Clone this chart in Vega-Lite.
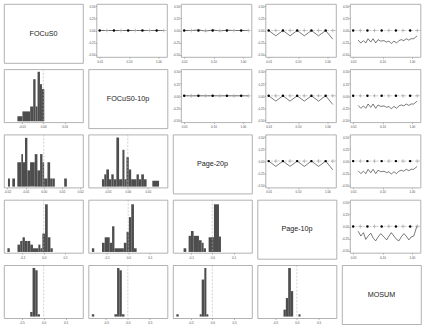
{
"$schema": "https://vega.github.io/schema/vega-lite/v6.json",
"padding": {"left": 3, "top": 3, "right": 0, "bottom": 0},
"background": "white",
"datasets": {
"zero": [{"x": 0, "y": 0}],
"lab": [{"k": 0, "t": "FOCuS0"}, {"k": 1, "t": "FOCuS0-10p"}, {"k": 2, "t": "Page-20p"}, {"k": 3, "t": "Page-10p"}, {"k": 4, "t": "MOSUM"}],
"mk": [{"x":0.01,"y":0,"k":"a"},{"x":0.0175,"y":0,"k":"b"},{"x":0.03063,"y":0,"k":"a"},{"x":0.05359,"y":0,"k":"b"},{"x":0.09379,"y":0,"k":"a"},{"x":0.1641,"y":0,"k":"b"},{"x":0.2872,"y":0,"k":"a"},{"x":0.5027,"y":0,"k":"b"},{"x":0.8796,"y":0,"k":"a"},{"x":1.539,"y":0,"k":"b"}],
"ln": [
{"s":"flat","x":0.01,"y":0},{"s":"flat","x":0.0175,"y":0},{"s":"flat","x":0.03063,"y":0},{"s":"flat","x":0.05359,"y":0},{"s":"flat","x":0.09379,"y":0},{"s":"flat","x":0.1641,"y":0},{"s":"flat","x":0.2872,"y":0},{"s":"flat","x":0.5027,"y":0},{"s":"flat","x":0.8796,"y":0},{"s":"flat","x":1.539,"y":0},
{"s":"flat2","x":0.01,"y":0},{"s":"flat2","x":0.0175,"y":0},{"s":"flat2","x":0.03063,"y":0.01},{"s":"flat2","x":0.05359,"y":-0.012},{"s":"flat2","x":0.09379,"y":0.01},{"s":"flat2","x":0.1641,"y":-0.008},{"s":"flat2","x":0.2872,"y":0.006},{"s":"flat2","x":0.5027,"y":0},{"s":"flat2","x":0.8796,"y":0},{"s":"flat2","x":1.539,"y":0},
{"s":"zig","x":0.01,"y":0},{"s":"zig","x":0.0175,"y":-0.11},{"s":"zig","x":0.03063,"y":0},{"s":"zig","x":0.05359,"y":-0.11},{"s":"zig","x":0.09379,"y":0},{"s":"zig","x":0.1641,"y":-0.11},{"s":"zig","x":0.2872,"y":0},{"s":"zig","x":0.5027,"y":-0.11},{"s":"zig","x":0.8796,"y":0},{"s":"zig","x":1.539,"y":-0.18},
{"s":"wig","x":0.01477,"y":-0.2},{"s":"wig","x":0.01819,"y":-0.26},{"s":"wig","x":0.0224,"y":-0.21},{"s":"wig","x":0.02687,"y":-0.26},{"s":"wig","x":0.03224,"y":-0.17},{"s":"wig","x":0.0397,"y":-0.24},{"s":"wig","x":0.04764,"y":-0.17},{"s":"wig","x":0.05868,"y":-0.26},{"s":"wig","x":0.07037,"y":-0.19},{"s":"wig","x":0.08666,"y":-0.22},{"s":"wig","x":0.1124,"y":-0.21},{"s":"wig","x":0.1384,"y":-0.24},{"s":"wig","x":0.1661,"y":-0.22},{"s":"wig","x":0.1993,"y":-0.27},{"s":"wig","x":0.2454,"y":-0.22},{"s":"wig","x":0.3022,"y":-0.26},{"s":"wig","x":0.3626,"y":-0.21},{"s":"wig","x":0.4351,"y":-0.19},{"s":"wig","x":0.5358,"y":-0.21},{"s":"wig","x":0.6428,"y":-0.17},{"s":"wig","x":0.7916,"y":-0.2},{"s":"wig","x":0.9495,"y":-0.17},{"s":"wig","x":1.169,"y":-0.17},{"s":"wig","x":1.517,"y":-0.11},
{"s":"wig3","x":0.01477,"y":-0.1},{"s":"wig3","x":0.01819,"y":-0.2},{"s":"wig3","x":0.0224,"y":-0.13},{"s":"wig3","x":0.02687,"y":-0.27},{"s":"wig3","x":0.03224,"y":-0.2},{"s":"wig3","x":0.0397,"y":-0.14},{"s":"wig3","x":0.04764,"y":-0.24},{"s":"wig3","x":0.05868,"y":-0.3},{"s":"wig3","x":0.07037,"y":-0.22},{"s":"wig3","x":0.08666,"y":-0.15},{"s":"wig3","x":0.1124,"y":-0.22},{"s":"wig3","x":0.1384,"y":-0.28},{"s":"wig3","x":0.1661,"y":-0.2},{"s":"wig3","x":0.1993,"y":-0.13},{"s":"wig3","x":0.2454,"y":-0.2},{"s":"wig3","x":0.3022,"y":-0.27},{"s":"wig3","x":0.3626,"y":-0.3},{"s":"wig3","x":0.4351,"y":-0.22},{"s":"wig3","x":0.5358,"y":-0.15},{"s":"wig3","x":0.6428,"y":-0.2},{"s":"wig3","x":0.7916,"y":-0.28},{"s":"wig3","x":0.9495,"y":-0.22},{"s":"wig3","x":1.169,"y":-0.2},{"s":"wig3","x":1.517,"y":0.02}
],
"hist": [
{"p":"a","x":-0.01213,"x2":-0.00976,"n":1},{"p":"a","x":-0.00976,"x2":-0.00614,"n":2},{"p":"a","x":-0.00614,"x2":-0.00472,"n":3},{"p":"a","x":-0.00472,"x2":-0.00362,"n":8.5},{"p":"a","x":-0.00362,"x2":-0.00268,"n":3},{"p":"a","x":-0.00268,"x2":-0.00157,"n":10},{"p":"a","x":-0.00157,"x2":-0.00063,"n":7.5},{"p":"a","x":-0.00063,"x2":0.00047,"n":6.5},
{"p":"b","x":-0.01963,"x2":-0.01853,"n":1},{"p":"b","x":-0.01725,"x2":-0.01578,"n":1},{"p":"b","x":-0.0145,"x2":-0.01229,"n":3},{"p":"b","x":-0.01229,"x2":-0.01138,"n":4},{"p":"b","x":-0.01138,"x2":-0.01028,"n":3},{"p":"b","x":-0.01028,"x2":-0.00899,"n":6},{"p":"b","x":-0.00899,"x2":-0.00752,"n":2},{"p":"b","x":-0.00752,"x2":-0.00495,"n":3},{"p":"b","x":-0.00495,"x2":-0.00349,"n":4},{"p":"b","x":-0.00349,"x2":-0.00202,"n":2},{"p":"b","x":-0.00202,"x2":-0.00073,"n":4},{"p":"b","x":-0.00073,"x2":0.00018,"n":3},{"p":"b","x":0.00018,"x2":0.00202,"n":1},{"p":"b","x":0.00202,"x2":0.00349,"n":3},{"p":"b","x":0.00349,"x2":0.00477,"n":1},{"p":"b","x":0.00477,"x2":0.00606,"n":1},{"p":"b","x":0.01119,"x2":0.01266,"n":1},
{"p":"c","x":-0.01283,"x2":-0.01167,"n":1.5},{"p":"c","x":-0.01167,"x2":-0.01067,"n":2.5},{"p":"c","x":-0.01067,"x2":-0.00933,"n":3.5},{"p":"c","x":-0.00933,"x2":-0.00817,"n":1.5},{"p":"c","x":-0.00817,"x2":-0.007,"n":2.5},{"p":"c","x":-0.007,"x2":-0.00567,"n":1.5},{"p":"c","x":-0.00567,"x2":-0.00433,"n":10},{"p":"c","x":-0.00433,"x2":-0.00267,"n":1.5},{"p":"c","x":-0.00267,"x2":-0.00167,"n":7.5},{"p":"c","x":-0.00167,"x2":-0.00067,"n":1.5},{"p":"c","x":-0.00067,"x2":0.0005,"n":6},{"p":"c","x":0.0005,"x2":0.00167,"n":3.5},{"p":"c","x":0.00167,"x2":0.00433,"n":1.5},{"p":"c","x":0.00433,"x2":0.0055,"n":2.5},{"p":"c","x":0.0055,"x2":0.00667,"n":1.5},{"p":"c","x":0.00667,"x2":0.008,"n":2.5},{"p":"c","x":0.008,"x2":0.00933,"n":1.5},{"p":"c","x":0.01217,"x2":0.0155,"n":1.2},
{"p":"d","x":-0.17,"x2":-0.159,"n":1},{"p":"d","x":-0.1228,"x2":-0.1102,"n":2},{"p":"d","x":-0.1102,"x2":-0.0992,"n":3},{"p":"d","x":-0.0992,"x2":-0.0882,"n":4},{"p":"d","x":-0.0882,"x2":-0.0756,"n":3},{"p":"d","x":-0.0756,"x2":-0.063,"n":3},{"p":"d","x":-0.063,"x2":-0.0504,"n":2},{"p":"d","x":-0.0504,"x2":-0.0252,"n":1},{"p":"d","x":-0.0252,"x2":-0.0157,"n":2},{"p":"d","x":-0.0157,"x2":-0.0063,"n":1},{"p":"d","x":-0.0063,"x2":0.0063,"n":5},{"p":"d","x":0.0063,"x2":0.0189,"n":13},{"p":"d","x":0.0189,"x2":0.0315,"n":4},{"p":"d","x":0.0315,"x2":0.0425,"n":1},
{"p":"e","x":-0.1674,"x2":-0.1566,"n":1},{"p":"e","x":-0.1209,"x2":-0.1085,"n":2.5},{"p":"e","x":-0.1085,"x2":-0.0853,"n":4},{"p":"e","x":-0.0853,"x2":-0.0744,"n":2.5},{"p":"e","x":-0.0744,"x2":-0.0636,"n":7},{"p":"e","x":-0.0636,"x2":-0.0202,"n":1},{"p":"e","x":-0.0202,"x2":-0.0078,"n":2.5},{"p":"e","x":-0.0078,"x2":0.0031,"n":5.5},{"p":"e","x":0.0031,"x2":0.014,"n":9.5},{"p":"e","x":0.014,"x2":0.0264,"n":13},{"p":"e","x":0.0264,"x2":0.0388,"n":1},
{"p":"f","x":-0.1344,"x2":-0.1219,"n":1},{"p":"f","x":-0.1109,"x2":-0.1,"n":4.4},{"p":"f","x":-0.1,"x2":-0.0875,"n":5.7},{"p":"f","x":-0.0875,"x2":-0.0625,"n":4.4},{"p":"f","x":-0.0625,"x2":-0.05,"n":3.2},{"p":"f","x":-0.05,"x2":-0.0406,"n":2.5},{"p":"f","x":-0.0406,"x2":-0.0297,"n":1},{"p":"f","x":-0.0172,"x2":0.0078,"n":4},{"p":"f","x":0.0078,"x2":0.0313,"n":13},{"p":"f","x":0.0313,"x2":0.0406,"n":4.2},
{"p":"g","x":-0.305,"x2":-0.252,"n":2},{"p":"g","x":-0.252,"x2":-0.191,"n":21},{"p":"g","x":-0.191,"x2":-0.137,"n":20},{"p":"g","x":-0.137,"x2":-0.084,"n":1},
{"p":"h","x":-0.817,"x2":-0.763,"n":1},{"p":"h","x":-0.305,"x2":-0.244,"n":1},{"p":"h","x":-0.244,"x2":-0.191,"n":21},{"p":"h","x":-0.191,"x2":-0.137,"n":20},{"p":"h","x":-0.137,"x2":-0.076,"n":1},
{"p":"i","x":-0.831,"x2":-0.777,"n":1},{"p":"i","x":-0.292,"x2":-0.246,"n":1},{"p":"i","x":-0.246,"x2":-0.185,"n":16},{"p":"i","x":-0.185,"x2":-0.138,"n":21},{"p":"i","x":-0.138,"x2":-0.092,"n":1},
{"p":"j","x":-0.308,"x2":-0.254,"n":3},{"p":"j","x":-0.254,"x2":-0.2,"n":8},{"p":"j","x":-0.2,"x2":-0.138,"n":21},{"p":"j","x":-0.138,"x2":-0.085,"n":11},{"p":"j","x":0.038,"x2":0.085,"n":1}
]
},
"spacing": 4.3,
"vconcat": [
{"spacing": 3.5, "hconcat": [
 {"width":79,"height":59,"data":{"name":"lab"},"transform":[{"filter":"datum.k===0"}],"mark":{"type":"text","fontSize":7.2,"fill":"#1a1a1a","font":"Liberation Sans"},"encoding":{"text":{"field":"t"},"x":{"datum":0.5,"type":"quantitative","scale":{"domain":[0,1]},"axis":null},"y":{"datum":0.5,"type":"quantitative","scale":{"domain":[0,1]},"axis":null}}},
 {"width":70.5,"height":53,"encoding":{"y":{"field":"y","type":"quantitative","title":null,"scale":{"domain":[-0.55,0.55],"nice":false,"zero":false},"axis":{"values":[-0.5,-0.25,0,0.25,0.5],"format":".2f"}}},"layer":[
  {"data":{"name":"zero"},"mark":{"type":"rule","color":"#b3b3b3","strokeDash":[2,1.5],"strokeWidth":0.6}},
  {"data":{"name":"ln"},"transform":[{"filter":"datum.s==='flat'"}],"mark":{"type":"line","color":"#222","strokeWidth":0.6},"encoding":{"x":{"field":"x","type":"quantitative","title":null,"scale":{"type":"log","domain":[0.00778,1.98],"nice":false},"axis":{"values":[0.01,0.1,1],"format":".2f"}}}},
  {"data":{"name":"mk"},"transform":[{"filter":"datum.k==='b'"}],"mark":{"type":"point","filled":false,"shape":"M-1,0H1M0,-1V1","size":14,"stroke":"#a6a6a6","strokeWidth":0.7,"opacity":1},"encoding":{"x":{"field":"x","type":"quantitative","title":null,"scale":{"type":"log","domain":[0.00778,1.98],"nice":false},"axis":{"values":[0.01,0.1,1],"format":".2f"}}}},
  {"data":{"name":"mk"},"transform":[{"filter":"datum.k==='a'"}],"mark":{"type":"circle","size":6,"color":"#000000","opacity":1},"encoding":{"x":{"field":"x","type":"quantitative","title":null,"scale":{"type":"log","domain":[0.00778,1.98],"nice":false},"axis":{"values":[0.01,0.1,1],"format":".2f"}}}}
 ]},
 {"width":70.5,"height":53,"encoding":{"y":{"field":"y","type":"quantitative","title":null,"scale":{"domain":[-0.55,0.55],"nice":false,"zero":false},"axis":{"values":[-0.5,-0.25,0,0.25,0.5],"format":".2f"}}},"layer":[
  {"data":{"name":"zero"},"mark":{"type":"rule","color":"#b3b3b3","strokeDash":[2,1.5],"strokeWidth":0.6}},
  {"data":{"name":"ln"},"transform":[{"filter":"datum.s==='flat2'"}],"mark":{"type":"line","color":"#222","strokeWidth":0.6},"encoding":{"x":{"field":"x","type":"quantitative","title":null,"scale":{"type":"log","domain":[0.00778,1.98],"nice":false},"axis":{"values":[0.01,0.1,1],"format":".2f"}}}},
  {"data":{"name":"mk"},"transform":[{"filter":"datum.k==='b'"}],"mark":{"type":"point","filled":false,"shape":"M-1,0H1M0,-1V1","size":14,"stroke":"#a6a6a6","strokeWidth":0.7,"opacity":1},"encoding":{"x":{"field":"x","type":"quantitative","title":null,"scale":{"type":"log","domain":[0.00778,1.98],"nice":false},"axis":{"values":[0.01,0.1,1],"format":".2f"}}}},
  {"data":{"name":"mk"},"transform":[{"filter":"datum.k==='a'"}],"mark":{"type":"circle","size":6,"color":"#000000","opacity":1},"encoding":{"x":{"field":"x","type":"quantitative","title":null,"scale":{"type":"log","domain":[0.00778,1.98],"nice":false},"axis":{"values":[0.01,0.1,1],"format":".2f"}}}}
 ]},
 {"width":70.5,"height":53,"encoding":{"y":{"field":"y","type":"quantitative","title":null,"scale":{"domain":[-0.55,0.55],"nice":false,"zero":false},"axis":{"values":[-0.5,-0.25,0,0.25,0.5],"format":".2f"}}},"layer":[
  {"data":{"name":"zero"},"mark":{"type":"rule","color":"#b3b3b3","strokeDash":[2,1.5],"strokeWidth":0.6}},
  {"data":{"name":"ln"},"transform":[{"filter":"datum.s==='zig'"}],"mark":{"type":"line","color":"#222","strokeWidth":0.6},"encoding":{"x":{"field":"x","type":"quantitative","title":null,"scale":{"type":"log","domain":[0.00778,1.98],"nice":false},"axis":{"values":[0.01,0.1,1],"format":".2f"}}}},
  {"data":{"name":"mk"},"transform":[{"filter":"datum.k==='b'"}],"mark":{"type":"point","filled":false,"shape":"M-1,0H1M0,-1V1","size":14,"stroke":"#a6a6a6","strokeWidth":0.7,"opacity":1},"encoding":{"x":{"field":"x","type":"quantitative","title":null,"scale":{"type":"log","domain":[0.00778,1.98],"nice":false},"axis":{"values":[0.01,0.1,1],"format":".2f"}}}},
  {"data":{"name":"mk"},"transform":[{"filter":"datum.k==='a'"}],"mark":{"type":"circle","size":6,"color":"#000000","opacity":1},"encoding":{"x":{"field":"x","type":"quantitative","title":null,"scale":{"type":"log","domain":[0.00778,1.98],"nice":false},"axis":{"values":[0.01,0.1,1],"format":".2f"}}}}
 ]},
 {"width":70.5,"height":53,"encoding":{"y":{"field":"y","type":"quantitative","title":null,"scale":{"domain":[-0.55,0.55],"nice":false,"zero":false},"axis":{"values":[-0.5,-0.25,0,0.25,0.5],"format":".2f"}}},"layer":[
  {"data":{"name":"zero"},"mark":{"type":"rule","color":"#b3b3b3","strokeDash":[2,1.5],"strokeWidth":0.6}},
  {"data":{"name":"ln"},"transform":[{"filter":"datum.s==='wig'"}],"mark":{"type":"line","color":"#222","strokeWidth":0.6},"encoding":{"x":{"field":"x","type":"quantitative","title":null,"scale":{"type":"log","domain":[0.00778,1.98],"nice":false},"axis":{"values":[0.01,0.1,1],"format":".2f"}}}},
  {"data":{"name":"mk"},"transform":[{"filter":"datum.k==='b'"}],"mark":{"type":"point","filled":false,"shape":"M-1,0H1M0,-1V1","size":14,"stroke":"#a6a6a6","strokeWidth":0.7,"opacity":1},"encoding":{"x":{"field":"x","type":"quantitative","title":null,"scale":{"type":"log","domain":[0.00778,1.98],"nice":false},"axis":{"values":[0.01,0.1,1],"format":".2f"}}}},
  {"data":{"name":"mk"},"transform":[{"filter":"datum.k==='a'"}],"mark":{"type":"circle","size":6,"color":"#000000","opacity":1},"encoding":{"x":{"field":"x","type":"quantitative","title":null,"scale":{"type":"log","domain":[0.00778,1.98],"nice":false},"axis":{"values":[0.01,0.1,1],"format":".2f"}}}}
 ]}
]},
{"spacing": 3.5, "hconcat": [
 {"width":79,"height":53,"encoding":{"x":{"field":"x","type":"quantitative","title":null,"scale":{"domain":[-0.0184,0.0186],"nice":false,"zero":false},"axis":{"values":[-0.01,0,0.01],"format":".2f"}}},"layer":[
  {"data":{"name":"hist"},"transform":[{"filter":"datum.p==='a'"}],"mark":{"type":"rect","color":"#4d4d4d"},"encoding":{"x2":{"field":"x2"},"y":{"field":"n","type":"quantitative","title":null,"scale":{"domain":[-0.2,10.5],"nice":false,"zero":false},"axis":null},"y2":{"datum":0}}},
  {"data":{"name":"zero"},"mark":{"type":"rule","color":"#b3b3b3","strokeDash":[2,1.5],"strokeWidth":0.6}}
 ]},
 {"width":79,"height":59,"data":{"name":"lab"},"transform":[{"filter":"datum.k===1"}],"mark":{"type":"text","fontSize":7.2,"fill":"#1a1a1a","font":"Liberation Sans"},"encoding":{"text":{"field":"t"},"x":{"datum":0.5,"type":"quantitative","scale":{"domain":[0,1]},"axis":null},"y":{"datum":0.5,"type":"quantitative","scale":{"domain":[0,1]},"axis":null}}},
 {"width":70.5,"height":53,"encoding":{"y":{"field":"y","type":"quantitative","title":null,"scale":{"domain":[-0.55,0.55],"nice":false,"zero":false},"axis":{"values":[-0.5,-0.25,0,0.25,0.5],"format":".2f"}}},"layer":[
  {"data":{"name":"zero"},"mark":{"type":"rule","color":"#b3b3b3","strokeDash":[2,1.5],"strokeWidth":0.6}},
  {"data":{"name":"ln"},"transform":[{"filter":"datum.s==='flat'"}],"mark":{"type":"line","color":"#222","strokeWidth":0.6},"encoding":{"x":{"field":"x","type":"quantitative","title":null,"scale":{"type":"log","domain":[0.00778,1.98],"nice":false},"axis":{"values":[0.01,0.1,1],"format":".2f"}}}},
  {"data":{"name":"mk"},"transform":[{"filter":"datum.k==='b'"}],"mark":{"type":"point","filled":false,"shape":"M-1,0H1M0,-1V1","size":14,"stroke":"#a6a6a6","strokeWidth":0.7,"opacity":1},"encoding":{"x":{"field":"x","type":"quantitative","title":null,"scale":{"type":"log","domain":[0.00778,1.98],"nice":false},"axis":{"values":[0.01,0.1,1],"format":".2f"}}}},
  {"data":{"name":"mk"},"transform":[{"filter":"datum.k==='a'"}],"mark":{"type":"circle","size":6,"color":"#000000","opacity":1},"encoding":{"x":{"field":"x","type":"quantitative","title":null,"scale":{"type":"log","domain":[0.00778,1.98],"nice":false},"axis":{"values":[0.01,0.1,1],"format":".2f"}}}}
 ]},
 {"width":70.5,"height":53,"encoding":{"y":{"field":"y","type":"quantitative","title":null,"scale":{"domain":[-0.55,0.55],"nice":false,"zero":false},"axis":{"values":[-0.5,-0.25,0,0.25,0.5],"format":".2f"}}},"layer":[
  {"data":{"name":"zero"},"mark":{"type":"rule","color":"#b3b3b3","strokeDash":[2,1.5],"strokeWidth":0.6}},
  {"data":{"name":"ln"},"transform":[{"filter":"datum.s==='zig'"}],"mark":{"type":"line","color":"#222","strokeWidth":0.6},"encoding":{"x":{"field":"x","type":"quantitative","title":null,"scale":{"type":"log","domain":[0.00778,1.98],"nice":false},"axis":{"values":[0.01,0.1,1],"format":".2f"}}}},
  {"data":{"name":"mk"},"transform":[{"filter":"datum.k==='b'"}],"mark":{"type":"point","filled":false,"shape":"M-1,0H1M0,-1V1","size":14,"stroke":"#a6a6a6","strokeWidth":0.7,"opacity":1},"encoding":{"x":{"field":"x","type":"quantitative","title":null,"scale":{"type":"log","domain":[0.00778,1.98],"nice":false},"axis":{"values":[0.01,0.1,1],"format":".2f"}}}},
  {"data":{"name":"mk"},"transform":[{"filter":"datum.k==='a'"}],"mark":{"type":"circle","size":6,"color":"#000000","opacity":1},"encoding":{"x":{"field":"x","type":"quantitative","title":null,"scale":{"type":"log","domain":[0.00778,1.98],"nice":false},"axis":{"values":[0.01,0.1,1],"format":".2f"}}}}
 ]},
 {"width":70.5,"height":53,"encoding":{"y":{"field":"y","type":"quantitative","title":null,"scale":{"domain":[-0.55,0.55],"nice":false,"zero":false},"axis":{"values":[-0.5,-0.25,0,0.25,0.5],"format":".2f"}}},"layer":[
  {"data":{"name":"zero"},"mark":{"type":"rule","color":"#b3b3b3","strokeDash":[2,1.5],"strokeWidth":0.6}},
  {"data":{"name":"ln"},"transform":[{"filter":"datum.s==='wig'"}],"mark":{"type":"line","color":"#222","strokeWidth":0.6},"encoding":{"x":{"field":"x","type":"quantitative","title":null,"scale":{"type":"log","domain":[0.00778,1.98],"nice":false},"axis":{"values":[0.01,0.1,1],"format":".2f"}}}},
  {"data":{"name":"mk"},"transform":[{"filter":"datum.k==='b'"}],"mark":{"type":"point","filled":false,"shape":"M-1,0H1M0,-1V1","size":14,"stroke":"#a6a6a6","strokeWidth":0.7,"opacity":1},"encoding":{"x":{"field":"x","type":"quantitative","title":null,"scale":{"type":"log","domain":[0.00778,1.98],"nice":false},"axis":{"values":[0.01,0.1,1],"format":".2f"}}}},
  {"data":{"name":"mk"},"transform":[{"filter":"datum.k==='a'"}],"mark":{"type":"circle","size":6,"color":"#000000","opacity":1},"encoding":{"x":{"field":"x","type":"quantitative","title":null,"scale":{"type":"log","domain":[0.00778,1.98],"nice":false},"axis":{"values":[0.01,0.1,1],"format":".2f"}}}}
 ]}
]},
{"spacing": 3.5, "hconcat": [
 {"width":79,"height":53,"encoding":{"x":{"field":"x","type":"quantitative","title":null,"scale":{"domain":[-0.0218,0.0215],"nice":false,"zero":false},"axis":{"values":[-0.02,-0.01,0,0.01,0.02],"format":".2f"}}},"layer":[
  {"data":{"name":"hist"},"transform":[{"filter":"datum.p==='b'"}],"mark":{"type":"rect","color":"#4d4d4d"},"encoding":{"x2":{"field":"x2"},"y":{"field":"n","type":"quantitative","title":null,"scale":{"domain":[-0.12,6.4],"nice":false,"zero":false},"axis":null},"y2":{"datum":0}}},
  {"data":{"name":"zero"},"mark":{"type":"rule","color":"#b3b3b3","strokeDash":[2,1.5],"strokeWidth":0.6}}
 ]},
 {"width":79,"height":53,"encoding":{"x":{"field":"x","type":"quantitative","title":null,"scale":{"domain":[-0.0195,0.0197],"nice":false,"zero":false},"axis":{"values":[-0.01,0,0.01],"format":".2f"}}},"layer":[
  {"data":{"name":"hist"},"transform":[{"filter":"datum.p==='c'"}],"mark":{"type":"rect","color":"#4d4d4d"},"encoding":{"x2":{"field":"x2"},"y":{"field":"n","type":"quantitative","title":null,"scale":{"domain":[-0.2,10.6],"nice":false,"zero":false},"axis":null},"y2":{"datum":0}}},
  {"data":{"name":"zero"},"mark":{"type":"rule","color":"#b3b3b3","strokeDash":[2,1.5],"strokeWidth":0.6}}
 ]},
 {"width":79,"height":59,"data":{"name":"lab"},"transform":[{"filter":"datum.k===2"}],"mark":{"type":"text","fontSize":7.2,"fill":"#1a1a1a","font":"Liberation Sans"},"encoding":{"text":{"field":"t"},"x":{"datum":0.5,"type":"quantitative","scale":{"domain":[0,1]},"axis":null},"y":{"datum":0.5,"type":"quantitative","scale":{"domain":[0,1]},"axis":null}}},
 {"width":70.5,"height":53,"encoding":{"y":{"field":"y","type":"quantitative","title":null,"scale":{"domain":[-0.55,0.55],"nice":false,"zero":false},"axis":{"values":[-0.5,-0.25,0,0.25,0.5],"format":".2f"}}},"layer":[
  {"data":{"name":"zero"},"mark":{"type":"rule","color":"#b3b3b3","strokeDash":[2,1.5],"strokeWidth":0.6}},
  {"data":{"name":"ln"},"transform":[{"filter":"datum.s==='zig'"}],"mark":{"type":"line","color":"#222","strokeWidth":0.6},"encoding":{"x":{"field":"x","type":"quantitative","title":null,"scale":{"type":"log","domain":[0.00778,1.98],"nice":false},"axis":{"values":[0.01,0.1,1],"format":".2f"}}}},
  {"data":{"name":"mk"},"transform":[{"filter":"datum.k==='b'"}],"mark":{"type":"point","filled":false,"shape":"M-1,0H1M0,-1V1","size":14,"stroke":"#a6a6a6","strokeWidth":0.7,"opacity":1},"encoding":{"x":{"field":"x","type":"quantitative","title":null,"scale":{"type":"log","domain":[0.00778,1.98],"nice":false},"axis":{"values":[0.01,0.1,1],"format":".2f"}}}},
  {"data":{"name":"mk"},"transform":[{"filter":"datum.k==='a'"}],"mark":{"type":"circle","size":6,"color":"#000000","opacity":1},"encoding":{"x":{"field":"x","type":"quantitative","title":null,"scale":{"type":"log","domain":[0.00778,1.98],"nice":false},"axis":{"values":[0.01,0.1,1],"format":".2f"}}}}
 ]},
 {"width":70.5,"height":53,"encoding":{"y":{"field":"y","type":"quantitative","title":null,"scale":{"domain":[-0.55,0.55],"nice":false,"zero":false},"axis":{"values":[-0.5,-0.25,0,0.25,0.5],"format":".2f"}}},"layer":[
  {"data":{"name":"zero"},"mark":{"type":"rule","color":"#b3b3b3","strokeDash":[2,1.5],"strokeWidth":0.6}},
  {"data":{"name":"ln"},"transform":[{"filter":"datum.s==='wig'"}],"mark":{"type":"line","color":"#222","strokeWidth":0.6},"encoding":{"x":{"field":"x","type":"quantitative","title":null,"scale":{"type":"log","domain":[0.00778,1.98],"nice":false},"axis":{"values":[0.01,0.1,1],"format":".2f"}}}},
  {"data":{"name":"mk"},"transform":[{"filter":"datum.k==='b'"}],"mark":{"type":"point","filled":false,"shape":"M-1,0H1M0,-1V1","size":14,"stroke":"#a6a6a6","strokeWidth":0.7,"opacity":1},"encoding":{"x":{"field":"x","type":"quantitative","title":null,"scale":{"type":"log","domain":[0.00778,1.98],"nice":false},"axis":{"values":[0.01,0.1,1],"format":".2f"}}}},
  {"data":{"name":"mk"},"transform":[{"filter":"datum.k==='a'"}],"mark":{"type":"circle","size":6,"color":"#000000","opacity":1},"encoding":{"x":{"field":"x","type":"quantitative","title":null,"scale":{"type":"log","domain":[0.00778,1.98],"nice":false},"axis":{"values":[0.01,0.1,1],"format":".2f"}}}}
 ]}
]},
{"spacing": 3.5, "hconcat": [
 {"width":79,"height":53,"encoding":{"x":{"field":"x","type":"quantitative","title":null,"scale":{"domain":[-0.186,0.184],"nice":false,"zero":false},"axis":{"values":[-0.1,0,0.1],"format":".1f"}}},"layer":[
  {"data":{"name":"hist"},"transform":[{"filter":"datum.p==='d'"}],"mark":{"type":"rect","color":"#4d4d4d"},"encoding":{"x2":{"field":"x2"},"y":{"field":"n","type":"quantitative","title":null,"scale":{"domain":[-0.26,14.2],"nice":false,"zero":false},"axis":null},"y2":{"datum":0}}},
  {"data":{"name":"zero"},"mark":{"type":"rule","color":"#b3b3b3","strokeDash":[2,1.5],"strokeWidth":0.6}}
 ]},
 {"width":79,"height":53,"encoding":{"x":{"field":"x","type":"quantitative","title":null,"scale":{"domain":[-0.183,0.181],"nice":false,"zero":false},"axis":{"values":[-0.1,0,0.1],"format":".1f"}}},"layer":[
  {"data":{"name":"hist"},"transform":[{"filter":"datum.p==='e'"}],"mark":{"type":"rect","color":"#4d4d4d"},"encoding":{"x2":{"field":"x2"},"y":{"field":"n","type":"quantitative","title":null,"scale":{"domain":[-0.26,14.2],"nice":false,"zero":false},"axis":null},"y2":{"datum":0}}},
  {"data":{"name":"zero"},"mark":{"type":"rule","color":"#b3b3b3","strokeDash":[2,1.5],"strokeWidth":0.6}}
 ]},
 {"width":79,"height":53,"encoding":{"x":{"field":"x","type":"quantitative","title":null,"scale":{"domain":[-0.184,0.186],"nice":false,"zero":false},"axis":{"values":[-0.1,0,0.1],"format":".1f"}}},"layer":[
  {"data":{"name":"hist"},"transform":[{"filter":"datum.p==='f'"}],"mark":{"type":"rect","color":"#4d4d4d"},"encoding":{"x2":{"field":"x2"},"y":{"field":"n","type":"quantitative","title":null,"scale":{"domain":[-0.26,14.2],"nice":false,"zero":false},"axis":null},"y2":{"datum":0}}},
  {"data":{"name":"zero"},"mark":{"type":"rule","color":"#b3b3b3","strokeDash":[2,1.5],"strokeWidth":0.6}}
 ]},
 {"width":79,"height":59,"data":{"name":"lab"},"transform":[{"filter":"datum.k===3"}],"mark":{"type":"text","fontSize":7.2,"fill":"#1a1a1a","font":"Liberation Sans"},"encoding":{"text":{"field":"t"},"x":{"datum":0.5,"type":"quantitative","scale":{"domain":[0,1]},"axis":null},"y":{"datum":0.5,"type":"quantitative","scale":{"domain":[0,1]},"axis":null}}},
 {"width":70.5,"height":53,"encoding":{"y":{"field":"y","type":"quantitative","title":null,"scale":{"domain":[-0.55,0.55],"nice":false,"zero":false},"axis":{"values":[-0.5,-0.25,0,0.25,0.5],"format":".2f"}}},"layer":[
  {"data":{"name":"zero"},"mark":{"type":"rule","color":"#b3b3b3","strokeDash":[2,1.5],"strokeWidth":0.6}},
  {"data":{"name":"ln"},"transform":[{"filter":"datum.s==='wig3'"}],"mark":{"type":"line","color":"#222","strokeWidth":0.6},"encoding":{"x":{"field":"x","type":"quantitative","title":null,"scale":{"type":"log","domain":[0.00778,1.98],"nice":false},"axis":{"values":[0.01,0.1,1],"format":".2f"}}}},
  {"data":{"name":"mk"},"transform":[{"filter":"datum.k==='b'"}],"mark":{"type":"point","filled":false,"shape":"M-1,0H1M0,-1V1","size":14,"stroke":"#a6a6a6","strokeWidth":0.7,"opacity":1},"encoding":{"x":{"field":"x","type":"quantitative","title":null,"scale":{"type":"log","domain":[0.00778,1.98],"nice":false},"axis":{"values":[0.01,0.1,1],"format":".2f"}}}},
  {"data":{"name":"mk"},"transform":[{"filter":"datum.k==='a'"}],"mark":{"type":"circle","size":6,"color":"#000000","opacity":1},"encoding":{"x":{"field":"x","type":"quantitative","title":null,"scale":{"type":"log","domain":[0.00778,1.98],"nice":false},"axis":{"values":[0.01,0.1,1],"format":".2f"}}}}
 ]}
]},
{"spacing": 3.5, "hconcat": [
 {"width":79,"height":53,"encoding":{"x":{"field":"x","type":"quantitative","title":null,"scale":{"domain":[-0.9,0.893],"nice":false,"zero":false},"axis":{"values":[-0.5,0,0.5],"format":".1f"}}},"layer":[
  {"data":{"name":"hist"},"transform":[{"filter":"datum.p==='g'"}],"mark":{"type":"rect","color":"#4d4d4d"},"encoding":{"x2":{"field":"x2"},"y":{"field":"n","type":"quantitative","title":null,"scale":{"domain":[-0.7,22.2],"nice":false,"zero":false},"axis":null},"y2":{"datum":0}}},
  {"data":{"name":"zero"},"mark":{"type":"rule","color":"#b3b3b3","strokeDash":[2,1.5],"strokeWidth":0.6}}
 ]},
 {"width":79,"height":53,"encoding":{"x":{"field":"x","type":"quantitative","title":null,"scale":{"domain":[-0.893,0.9],"nice":false,"zero":false},"axis":{"values":[-0.5,0,0.5],"format":".1f"}}},"layer":[
  {"data":{"name":"hist"},"transform":[{"filter":"datum.p==='h'"}],"mark":{"type":"rect","color":"#4d4d4d"},"encoding":{"x2":{"field":"x2"},"y":{"field":"n","type":"quantitative","title":null,"scale":{"domain":[-0.7,22.2],"nice":false,"zero":false},"axis":null},"y2":{"datum":0}}},
  {"data":{"name":"zero"},"mark":{"type":"rule","color":"#b3b3b3","strokeDash":[2,1.5],"strokeWidth":0.6}}
 ]},
 {"width":79,"height":53,"encoding":{"x":{"field":"x","type":"quantitative","title":null,"scale":{"domain":[-0.908,0.915],"nice":false,"zero":false},"axis":{"values":[-0.5,0,0.5],"format":".1f"}}},"layer":[
  {"data":{"name":"hist"},"transform":[{"filter":"datum.p==='i'"}],"mark":{"type":"rect","color":"#4d4d4d"},"encoding":{"x2":{"field":"x2"},"y":{"field":"n","type":"quantitative","title":null,"scale":{"domain":[-0.7,22.2],"nice":false,"zero":false},"axis":null},"y2":{"datum":0}}},
  {"data":{"name":"zero"},"mark":{"type":"rule","color":"#b3b3b3","strokeDash":[2,1.5],"strokeWidth":0.6}}
 ]},
 {"width":79,"height":53,"encoding":{"x":{"field":"x","type":"quantitative","title":null,"scale":{"domain":[-0.908,0.915],"nice":false,"zero":false},"axis":{"values":[-0.5,0,0.5],"format":".1f"}}},"layer":[
  {"data":{"name":"hist"},"transform":[{"filter":"datum.p==='j'"}],"mark":{"type":"rect","color":"#4d4d4d"},"encoding":{"x2":{"field":"x2"},"y":{"field":"n","type":"quantitative","title":null,"scale":{"domain":[-0.7,22.2],"nice":false,"zero":false},"axis":null},"y2":{"datum":0}}},
  {"data":{"name":"zero"},"mark":{"type":"rule","color":"#b3b3b3","strokeDash":[2,1.5],"strokeWidth":0.6}}
 ]},
 {"width":79,"height":59,"data":{"name":"lab"},"transform":[{"filter":"datum.k===4"}],"mark":{"type":"text","fontSize":7.2,"fill":"#1a1a1a","font":"Liberation Sans"},"encoding":{"text":{"field":"t"},"x":{"datum":0.5,"type":"quantitative","scale":{"domain":[0,1]},"axis":null},"y":{"datum":0.5,"type":"quantitative","scale":{"domain":[0,1]},"axis":null}}}
]}
],
"config": {
 "locale": {"number": {"decimal": ".", "thousands": ",", "grouping": [3], "currency": ["", ""], "minus": "-"}},
 "view": {"stroke": "#9e9e9e", "strokeWidth": 0.8},
 "concat": {"spacing": 6},
 "axis": {"domain": false, "grid": false, "tickSize": 1.3, "tickColor": "#777777", "tickWidth": 0.5, "labelFontSize": 3.0, "labelColor": "#4d4d4d", "labelFont": "Liberation Sans", "labelOverlap": false, "labelFlush": false},
 "axisX": {"labelPadding": 1.6},
 "axisY": {"labelPadding": 0.3}
}
}
